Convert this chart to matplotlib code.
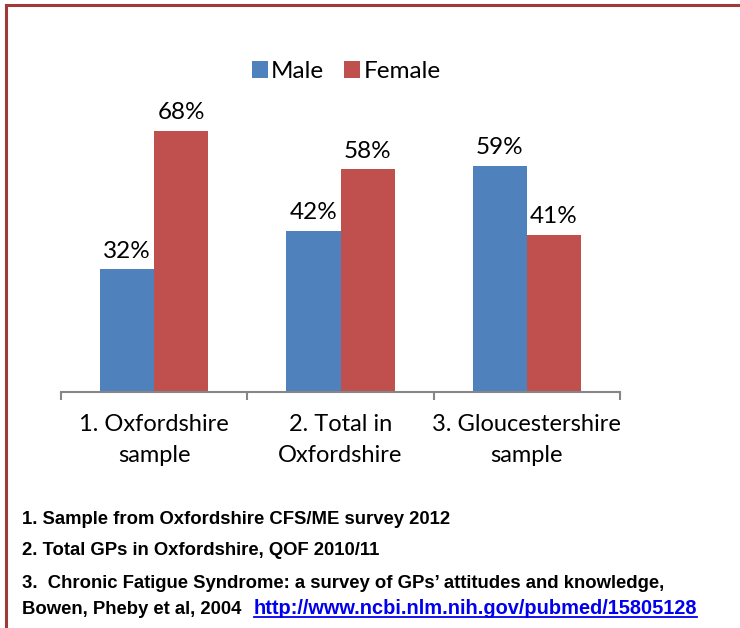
import matplotlib.pyplot as plt
from matplotlib.lines import Line2D
import numpy as np

plt.rcParams['font.family'] = ['Lato', 'Liberation Sans', 'DejaVu Sans']

categories = ['1. Oxfordshire\nsample', '2. Total in\nOxfordshire', '3. Gloucestershire\nsample']
male = [32, 42, 59]
female = [68, 58, 41]
notes = ['1. Sample from Oxfordshire CFS/ME survey 2012',
         '2. Total GPs in Oxfordshire, QOF 2010/11',
         '3.  Chronic Fatigue Syndrome: a survey of GPs\u2019 attitudes and knowledge,']
last_note = 'Bowen, Pheby et al, 2004  '
url = 'http://www.ncbi.nlm.nih.gov/pubmed/15805128'

blue = '#4F81BD'
red = '#C0504D'
W, H = 740, 628
note_font = ['Liberation Sans', 'DejaVu Sans']

fig = plt.figure(figsize=(W/100, H/100), dpi=100)
ax = fig.add_axes([61/W, 1-392/H, (620-61)/W, (392-60)/H])

x = np.arange(len(categories))
bw = 0.29
b1 = ax.bar(x - bw/2, male, bw, color=blue, label='Male')
b2 = ax.bar(x + bw/2, female, bw, color=red, label='Female')
for bars in (b1, b2):
    for r in bars:
        ax.annotate(f'{r.get_height():.0f}%', (r.get_x() + r.get_width()/2, r.get_height()),
                    xytext=(0, 5.5), textcoords='offset points', ha='center', va='bottom',
                    fontsize=17.5)

ax.set_xlim(-0.5, len(categories) - 0.5)
ax.set_ylim(0, 86.5)
ax.set_yticks([])
ax.set_xticks(x)
ax.set_xticklabels(categories, fontsize=17, linespacing=1.6)
ax.tick_params(axis='x', which='major', length=0, pad=16)
ax.set_xticks(np.arange(len(categories) + 1) - 0.5, minor=True)
ax.tick_params(axis='x', which='minor', length=6, width=1.5, color='#868686', direction='out')
for s in ('top', 'right', 'left'):
    ax.spines[s].set_visible(False)
ax.spines['bottom'].set_color('#868686')
ax.spines['bottom'].set_linewidth(1.5)

ax.legend(loc='center', bbox_to_anchor=(0.51, 0.965), ncol=2, frameon=False,
          fontsize=17.5, handlelength=0.65, handleheight=0.65, handletextpad=0.15,
          columnspacing=0.8, borderaxespad=0)

# frame lines
fig.add_artist(Line2D([6/W, 1], [1-5/H, 1-5/H], color='#A0393A', lw=2.2))
fig.add_artist(Line2D([6/W, 6/W], [0, 1-5/H], color='#A0393A', lw=2.2))

# footnotes
ys = [524, 555, 588]
for t, y in zip(notes, ys):
    fig.text(22/W, 1-y/H, t, fontsize=13.3, fontweight='bold', va='baseline', ha='left',
             family=note_font)
t4 = fig.text(22/W, 1-614/H, last_note, fontsize=13.3, fontweight='bold', va='baseline', ha='left',
              family=note_font)
fig.canvas.draw()
bb = t4.get_window_extent(renderer=fig.canvas.get_renderer())
tu = fig.text(bb.x1/W + 2/W, 1-614/H, url, fontsize=14.4, fontweight='bold', va='baseline', ha='left',
              color='#0000EE', family=note_font)
fig.canvas.draw()
bu = tu.get_window_extent(renderer=fig.canvas.get_renderer())
fig.add_artist(Line2D([bu.x0/W, bu.x1/W], [(bu.y0+1)/H, (bu.y0+1)/H], color='#0000EE', lw=1.3))

fig.savefig('out.png', dpi=100)
